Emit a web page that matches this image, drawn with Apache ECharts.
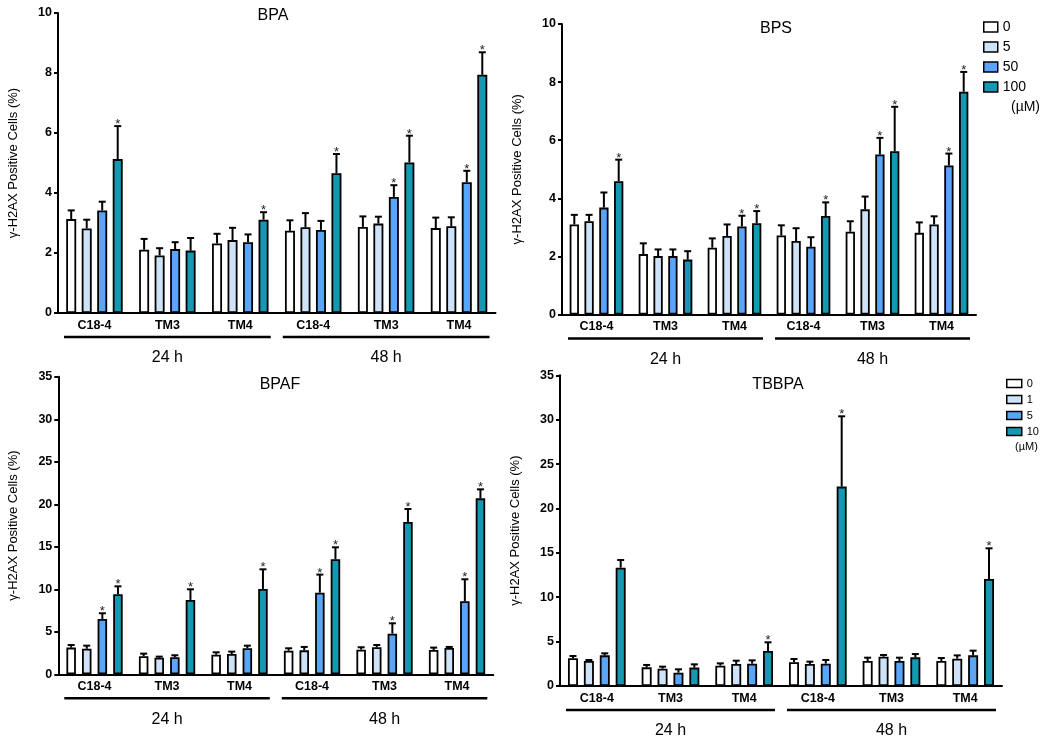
<!DOCTYPE html>
<html><head><meta charset="utf-8">
<script src="https://cdn.jsdelivr.net/npm/echarts@6/dist/echarts.min.js"></script>
<style>html,body{margin:0;padding:0;background:#fff}#c{width:1050px;height:747px}</style>
</head><body><div id="c"></div>
<script>
// ---------------- data ----------------
const categories = ['C18-4', 'TM3', 'TM4', 'C18-4', 'TM3', 'TM4'];
const timeLabels = ['24 h', '48 h'];
const timeSpans = [[0, 2], [3, 5]];
const upperDoses = ['0', '5', '50', '100'];
const lowerDoses = ['0', '1', '5', '10'];
const doseUnit = '(µM)';
const panelTitles = ['BPA', 'BPS', 'BPAF', 'TBBPA'];
const yAxisName = 'γ-H2AX Positive Cells (%)';
const upperYTicks = [0, 2, 4, 6, 8, 10];
const lowerYTicks = [0, 5, 10, 15, 20, 25, 30, 35];

// BPA (doses 0, 5, 50, 100 µM)
const bpaMean = [
  [3.13, 2.11, 2.32, 2.74, 2.87, 2.83],
  [2.82, 1.92, 2.43, 2.86, 2.98, 2.89],
  [3.42, 2.13, 2.36, 2.77, 3.87, 4.36],
  [5.13, 2.08, 3.11, 4.66, 5.02, 7.94]
];
const bpaSem = [
  [0.29, 0.36, 0.32, 0.35, 0.35, 0.35],
  [0.29, 0.24, 0.41, 0.47, 0.23, 0.30],
  [0.29, 0.23, 0.26, 0.30, 0.39, 0.38],
  [1.10, 0.42, 0.25, 0.64, 0.89, 0.75]
];
const bpaStar = [
  [0, 0, 0, 0, 0, 0],
  [0, 0, 0, 0, 0, 0],
  [0, 0, 0, 0, 1, 1],
  [1, 0, 1, 1, 1, 1]
];

// BPS (doses 0, 5, 50, 100 µM)
const bpsMean = [
  [3.10, 2.08, 2.30, 2.72, 2.85, 2.81],
  [3.21, 2.01, 2.70, 2.53, 3.62, 3.10],
  [3.68, 2.01, 3.03, 2.33, 5.51, 5.13],
  [4.59, 1.89, 3.14, 3.39, 5.62, 7.67]
];
const bpsSem = [
  [0.33, 0.37, 0.32, 0.35, 0.36, 0.36],
  [0.22, 0.23, 0.40, 0.44, 0.44, 0.28],
  [0.52, 0.23, 0.37, 0.33, 0.57, 0.41],
  [0.74, 0.29, 0.42, 0.47, 1.53, 0.68]
];
const bpsStar = [
  [0, 0, 0, 0, 0, 0],
  [0, 0, 0, 0, 0, 0],
  [0, 0, 1, 0, 1, 1],
  [1, 0, 1, 1, 1, 1]
];

// BPAF (doses 0, 1, 5, 10 µM)
const bpafMean = [
  [3.14, 2.12, 2.31, 2.78, 2.90, 2.86],
  [3.00, 1.96, 2.39, 2.82, 3.18, 3.10],
  [6.50, 2.00, 3.06, 9.60, 4.78, 8.59],
  [9.41, 8.75, 10.04, 13.53, 17.92, 20.70]
];
const bpafSem = [
  [0.31, 0.31, 0.28, 0.28, 0.28, 0.28],
  [0.37, 0.12, 0.28, 0.40, 0.27, 0.12],
  [0.68, 0.24, 0.31, 2.13, 1.22, 2.59],
  [0.94, 1.25, 2.31, 1.41, 1.53, 1.06]
];
const bpafStar = [
  [0, 0, 0, 0, 0, 0],
  [0, 0, 0, 0, 0, 0],
  [1, 0, 0, 1, 1, 1],
  [1, 1, 1, 1, 1, 1]
];

// TBBPA (doses 0, 1, 5, 10 µM)
const tbbpaMean = [
  [3.12, 2.10, 2.29, 2.67, 2.82, 2.82],
  [2.82, 1.95, 2.48, 2.48, 3.30, 3.08],
  [3.45, 1.50, 2.52, 2.52, 2.82, 3.45],
  [13.33, 2.07, 3.94, 22.46, 3.23, 12.05]
];
const tbbpaSem = [
  [0.26, 0.27, 0.26, 0.37, 0.37, 0.33],
  [0.11, 0.23, 0.37, 0.26, 0.19, 0.37],
  [0.23, 0.38, 0.37, 0.41, 0.37, 0.53],
  [0.86, 0.37, 0.98, 7.92, 0.37, 3.46]
];
const tbbpaStar = [
  [0, 0, 0, 0, 0, 0],
  [0, 0, 0, 0, 0, 0],
  [0, 0, 0, 0, 0, 0],
  [0, 0, 1, 1, 0, 1]
];

// ---------------- styles / layout ----------------
const FONT = "'Liberation Sans', Arial, sans-serif";
const barColors = ['#ffffff', '#cfe3f8', '#5aa5f8', '#1598b2'];
const panels = [
  { mean: bpaMean, sem: bpaSem, star: bpaStar, doses: upperDoses, prefix: 'U', ticks: upperYTicks,
    grid: { left: 58, top: 13, width: 437.5, height: 300 }, barWidth: 10, spacing: 15.5, title: [273, 16] },
  { mean: bpsMean, sem: bpsSem, star: bpsStar, doses: upperDoses, prefix: 'U', ticks: upperYTicks,
    grid: { left: 562, top: 24, width: 414, height: 290.5 }, barWidth: 9.3, spacing: 14.8, title: [776, 29] },
  { mean: bpafMean, sem: bpafSem, star: bpafStar, doses: lowerDoses, prefix: 'L', ticks: lowerYTicks,
    grid: { left: 58.3, top: 376.8, width: 435, height: 297.5 }, barWidth: 9.5, spacing: 15.6, title: [280, 385] },
  { mean: tbbpaMean, sem: tbbpaSem, star: tbbpaStar, doses: lowerDoses, prefix: 'L', ticks: lowerYTicks,
    grid: { left: 560, top: 375.3, width: 442, height: 310.7 }, barWidth: 10, spacing: 15.9, title: [778, 385] }
];

const grids = [], xAxes = [], yAxes = [], series = [], graphics = [];

panels.forEach((P, p) => {
  grids.push(Object.assign({ containLabel: false }, P.grid));
  xAxes.push({
    type: 'category', gridIndex: p, data: categories,
    axisLine: { lineStyle: { color: '#000', width: 2 } },
    axisTick: { alignWithLabel: true, length: 4, lineStyle: { color: '#000', width: 2 } },
    axisLabel: { color: '#000', fontWeight: 'bold', fontSize: 12.5, fontFamily: FONT, margin: 6 }
  });
  yAxes.push({
    type: 'value', gridIndex: p, min: P.ticks[0], max: P.ticks[P.ticks.length - 1],
    interval: P.ticks[1] - P.ticks[0],
    axisLine: { show: true, lineStyle: { color: '#000', width: 2 } },
    axisTick: { show: true, length: 4, lineStyle: { color: '#000', width: 2 } },
    splitLine: { show: false },
    axisLabel: { color: '#000', fontWeight: 'bold', fontSize: 12.5, fontFamily: FONT, margin: 6 },
    name: yAxisName, nameLocation: 'middle', nameGap: 38,
    nameTextStyle: { color: '#000', fontSize: 13, fontFamily: FONT }
  });
  const gapPct = ((P.spacing - P.barWidth) / P.barWidth * 100).toFixed(1) + '%';
  P.mean.forEach((vals, s) => {
    series.push({
      type: 'bar', name: P.prefix + P.doses[s], xAxisIndex: p, yAxisIndex: p,
      data: vals, barWidth: P.barWidth, barGap: gapPct, z: 2,
      itemStyle: { color: barColors[s], borderColor: '#000', borderWidth: 1.8 },
      silent: true
    });
  });
  P.mean.forEach((vals, s) => {
    const off = (s - 1.5) * P.spacing;
    series.push({
      type: 'custom', xAxisIndex: p, yAxisIndex: p, z: 3, silent: true,
      data: vals.map((m, i) => [i, m, P.sem[s][i], P.star[s][i]]),
      renderItem: (params, api) => {
        const i = api.value(0), m = api.value(1), e = api.value(2), st = api.value(3);
        const base = api.coord([i, m]);
        const top = api.coord([i, m + e]);
        const x = base[0] + off;
        const children = [
          { type: 'line', shape: { x1: x, y1: base[1], x2: x, y2: top[1] }, style: { stroke: '#000', lineWidth: 2 } },
          { type: 'line', shape: { x1: x - 3.5, y1: top[1], x2: x + 3.5, y2: top[1] }, style: { stroke: '#000', lineWidth: 2 } }
        ];
        if (st) {
          children.push({ type: 'text', x: x, y: top[1] - 1.5,
            style: { text: '*', fill: '#222', fontSize: 13, fontFamily: FONT, align: 'center', verticalAlign: 'middle' } });
        }
        return { type: 'group', children };
      }
    });
  });
  // time-group brackets
  series.push({
    type: 'custom', xAxisIndex: p, yAxisIndex: p, silent: true, clip: false,
    data: timeSpans,
    renderItem: (params, api) => {
      const a = api.value(0), b = api.value(1);
      const band = api.size([1, 0])[0];
      const pa = api.coord([a, 0]), pb = api.coord([b, 0]);
      const x0 = pa[0] - band / 2 + 6, x1 = pb[0] + band / 2 - 6, y = pa[1] + 24;
      return { type: 'group', children: [
        { type: 'line', shape: { x1: x0, y1: y, x2: x1, y2: y }, style: { stroke: '#000', lineWidth: 2.5 } },
        { type: 'text', x: (pa[0] + pb[0]) / 2, y: y + 21,
          style: { text: timeLabels[params.dataIndex], fill: '#000', fontSize: 16, fontFamily: FONT, align: 'center', verticalAlign: 'middle' } }
      ] };
    }
  });
  graphics.push({ type: 'text', x: P.title[0], y: P.title[1],
    style: { text: panelTitles[p], fill: '#000', fontSize: 16, fontFamily: FONT, align: 'center', verticalAlign: 'middle' } });
});

graphics.push({ type: 'text', x: 1025.5, y: 107,
  style: { text: doseUnit, fill: '#000', fontSize: 14, fontFamily: FONT, align: 'center', verticalAlign: 'middle' } });
graphics.push({ type: 'text', x: 1026.5, y: 447,
  style: { text: doseUnit, fill: '#000', fontSize: 11, fontFamily: FONT, align: 'center', verticalAlign: 'middle' } });

const legendBase = {
  orient: 'vertical', padding: 0, icon: 'rect', selectedMode: false,
  formatter: n => n.slice(1),
  itemStyle: { borderColor: '#000', borderWidth: 1.5 }
};

const option = {
  animation: false,
  backgroundColor: '#fff',
  grid: grids, xAxis: xAxes, yAxis: yAxes, series,
  legend: [
    Object.assign({}, legendBase, { left: 983, top: 20, data: upperDoses.map(d => 'U' + d),
      itemWidth: 14, itemHeight: 10, itemGap: 6, textStyle: { fontSize: 14, fontFamily: FONT, color: '#000' } }),
    Object.assign({}, legendBase, { left: 1006, top: 378, data: lowerDoses.map(d => 'L' + d),
      itemWidth: 15, itemHeight: 8, itemGap: 5, textStyle: { fontSize: 11, fontFamily: FONT, color: '#000' } })
  ],
  graphic: graphics
};

const chart = echarts.init(document.getElementById('c'), null, { renderer: 'canvas' });
chart.setOption(option);
</script>
</body></html>
